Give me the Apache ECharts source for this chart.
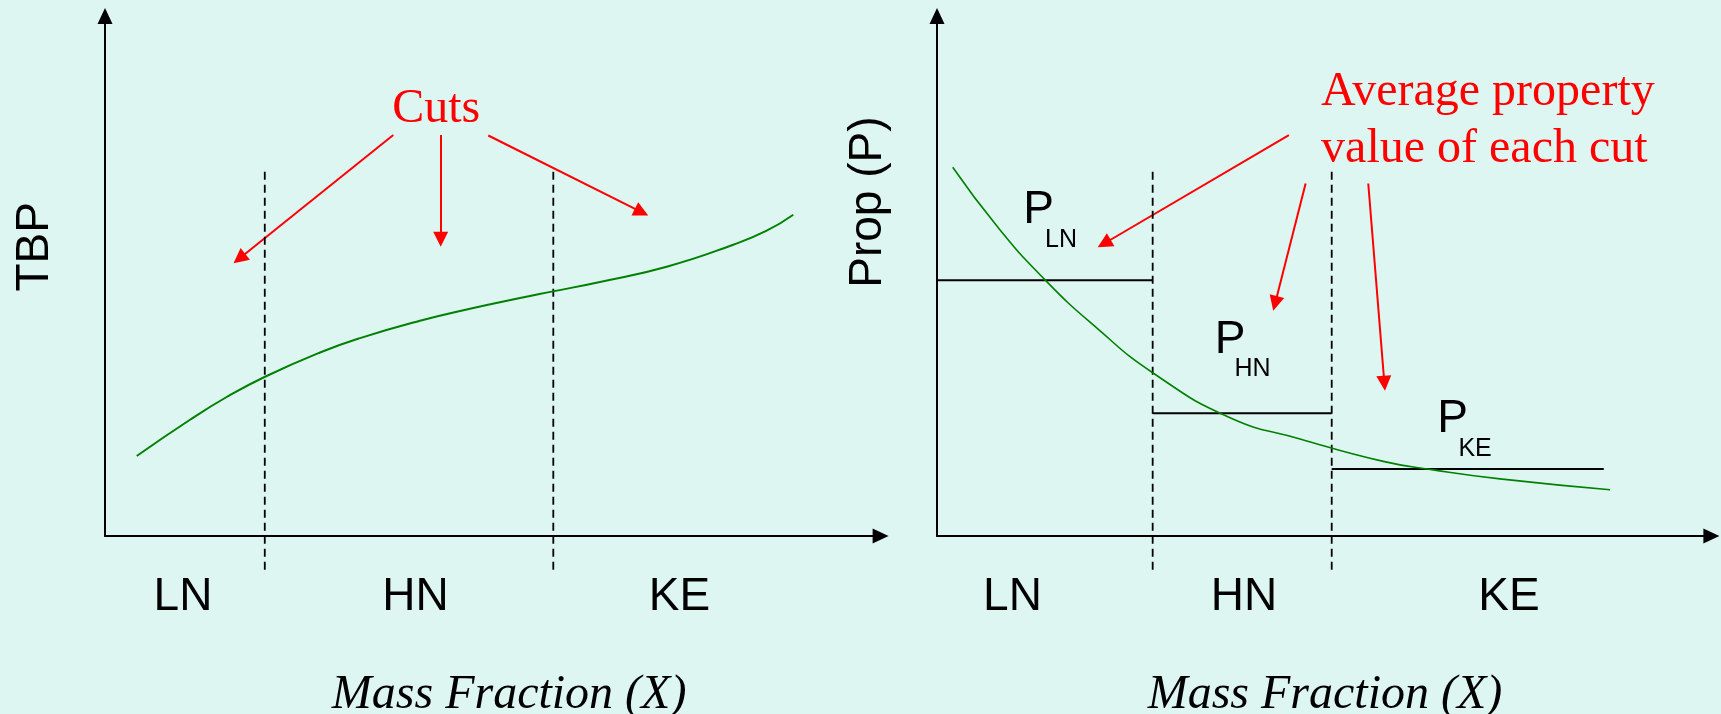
<!DOCTYPE html>
<html>
<head>
<meta charset="utf-8">
<title>TBP and property cuts</title>
<script src="https://cdn.jsdelivr.net/npm/echarts@6/dist/echarts.min.js"></script>
<style>
  html, body { margin: 0; padding: 0; background: #def6f1; }
  #chart { width: 1721px; height: 714px; }
</style>
</head>
<body>
<div id="chart"></div>
<script>
// Names of the three cuts
const cutNames = ['LN', 'HN', 'KE'];

// True boiling point curve: [mass fraction %, TBP (relative)]
const tbpCurve = [
  [4.09, 15.38], [10.96, 22.35], [15.69, 26.73], [20.63, 30.63], [27.72, 35.29],
  [32.88, 38.06], [40.61, 41.40], [47.06, 43.71], [53.51, 45.77], [57.76, 47.04],
  [63.82, 48.85], [72.42, 51.79], [81.01, 56.02], [85.31, 58.71], [88.74, 61.79]
];
// Cut boundaries on the TBP plot (mass fraction %)
const tbpCuts = [20.6, 57.8];

// Property curve: [mass fraction %, property (relative)]
const propCurve = [
  [2.03, 70.90], [7.71, 59.65], [13.95, 49.25], [20.62, 40.01], [27.85, 31.40],
  [37.84, 22.75], [46.88, 18.67], [57.63, 14.35], [64.09, 12.71], [72.70, 10.98],
  [86.91, 8.90]
];
// Cut boundaries on the property plot and the end of the last cut
const propCuts = [27.85, 50.97];
const propLastEnd = 86.1;
// Average property value of each cut
const propAvg = [49.2, 23.6, 12.9];

const SANS = '"Liberation Sans", Arial, sans-serif';
const SERIF = '"Liberation Serif", "Times New Roman", serif';
const RED = '#ff0000';
const GREEN = '#008000';

const chart = echarts.init(document.getElementById('chart'), null, { renderer: 'canvas' });

function makeAxis(i) {
  return {
    gridIndex: i, type: 'value', min: 0, max: 100,
    axisLine: { show: true, onZero: false, symbol: ['none', 'triangle'], symbolSize: [15, 16],
      lineStyle: { color: '#000', width: 2 } },
    axisTick: { show: false }, axisLabel: { show: false }, splitLine: { show: false }
  };
}

// vertical dashed line at each cut boundary
function cutLines(i, cuts) {
  return cuts.map(x => ({
    type: 'line', xAxisIndex: i, yAxisIndex: i, clip: false, silent: true,
    symbol: 'none', data: [[x, -6.5], [x, 70.5]],
    lineStyle: { color: '#000', width: 1.8, type: [8, 5] }
  }));
}

function curve(i, data, width) {
  return {
    type: 'line', xAxisIndex: i, yAxisIndex: i, silent: true, clip: false,
    symbol: 'none', smooth: 0.5, data: data,
    lineStyle: { color: GREEN, width: width }
  };
}

function arrows(i, list) {
  return {
    type: 'lines', coordinateSystem: 'cartesian2d', xAxisIndex: i, yAxisIndex: i,
    silent: true, symbol: ['none', 'triangle'], symbolSize: [16, 15],
    lineStyle: { color: RED, width: 2, opacity: 1, curveness: 0 },
    data: list.map(c => ({ coords: c }))
  };
}

function txt(x, y, text, style) {
  return {
    value: [x, y],
    label: Object.assign({ show: true, formatter: text, position: 'inside',
      align: 'center', verticalAlign: 'middle', color: '#000', opacity: 1,
      textBorderWidth: 0, fontFamily: SANS, fontSize: 46 }, style || {})
  };
}

function texts(i, items) {
  return {
    type: 'scatter', xAxisIndex: i, yAxisIndex: i, clip: false, silent: true,
    symbol: 'circle', symbolSize: 1, itemStyle: { color: 'rgba(0,0,0,0)' },
    data: items, z: 5
  };
}

const serifRed = { fontFamily: SERIF, fontSize: 48, color: RED };
const serifItalic = { fontFamily: SERIF, fontSize: 48, fontStyle: 'italic' };

const cutLabelXLeft = [10.06, 40.03, 74.07];
const cutLabelXRight = [9.75, 39.63, 73.86];

const leftTexts = [
  txt(-8.95, 55.6, 'TBP', { rotate: 90 }),
  txt(42.7, 82.1, 'Cuts', serifRed),
  txt(52.1, -30.6, 'Mass Fraction (X)', serifItalic)
].concat(cutNames.map((n, k) => txt(cutLabelXLeft[k], -11.8, n)));

const pPos = [[13.11, 62.6], [37.84, 37.7], [66.58, 22.4]];
const rightTexts = [
  txt(-8.9, 64.2, 'Prop (P)', { rotate: 90 }),
  txt(49.6, 79.8, 'Average property\nvalue of each cut',
    Object.assign({ align: 'left', lineHeight: 57 }, serifRed)),
  txt(50.1, -30.6, 'Mass Fraction (X)', serifItalic)
].concat(cutNames.map((n, k) => txt(cutLabelXRight[k], -11.8, n)))
 .concat(cutNames.map((n, k) => txt(pPos[k][0], pPos[k][1], 'P')))
 .concat(cutNames.map((n, k) => txt(pPos[k][0] + 2.9, pPos[k][1] - 5.7, n, { fontSize: 25 })));

// horizontal line for each cut's average property
const bounds = [0].concat(propCuts, [propLastEnd]);
const avgLines = propAvg.map((v, k) => ({
  type: 'line', xAxisIndex: 1, yAxisIndex: 1, silent: true, symbol: 'none',
  data: [[bounds[k], v], [bounds[k + 1], v]],
  lineStyle: { color: '#000', width: 2 }
}));

const option = {
  backgroundColor: '#def6f1',
  animation: false,
  grid: [
    { left: 105, top: 16, width: 775.6, height: 520 },
    { left: 937, top: 16, width: 774.4, height: 520 }
  ],
  xAxis: [makeAxis(0), makeAxis(1)],
  yAxis: [makeAxis(0), makeAxis(1)],
  series: [].concat(
    cutLines(0, tbpCuts),
    [curve(0, tbpCurve, 2),
     arrows(0, [
       [[37.17, 77.12], [17.33, 53.35]],
       [[43.28, 77.12], [43.28, 57.08]],
       [[49.42, 77.02], [69.18, 62.27]]
     ]),
     texts(0, leftTexts)],
    cutLines(1, propCuts),
    avgLines,
    [curve(1, propCurve, 1.6),
     arrows(1, [
       [[45.44, 77.08], [21.59, 56.25]],
       [[47.60, 67.79], [43.66, 44.73]],
       [[55.69, 67.79], [57.77, 29.38]]
     ]),
     texts(1, rightTexts)]
  )
};

chart.setOption(option);
</script>
</body>
</html>
